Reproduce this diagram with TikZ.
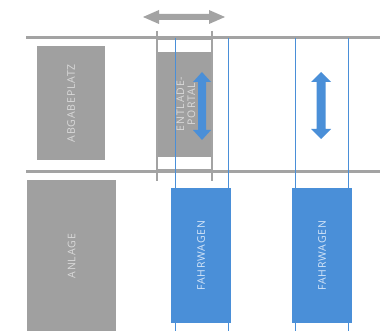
\documentclass[tikz,border=0pt]{standalone}
\usepackage{fontspec}
\setmainfont{Open Sans}[LetterSpace=8]
\begin{document}
\begin{tikzpicture}[x=1pt,y=-1pt,
  graybox/.style={fill=boxGray,draw=none,inner sep=0,anchor=north west},
  bluebox/.style={fill=wagBlue,draw=none,inner sep=0,anchor=north west,minimum width=60,minimum height=135},
  rail/.style={draw=wagBlue,line width=1pt},
  post/.style={draw=barGray,line width=1.6pt},
  lbl/.style={rotate=90,font=\fontsize{10.5}{11}\selectfont,align=center,inner sep=0pt}]
\definecolor{barGray}{HTML}{A3A3A3}
\definecolor{boxGray}{HTML}{A0A0A0}
\definecolor{wagBlue}{HTML}{4A8FD8}
\definecolor{txtGray}{HTML}{DADADA}
\definecolor{txtBlue}{HTML}{D6E6F8}
\useasboundingbox[fill=white] (0,0) rectangle (380,331);
% horizontal bars
\fill[barGray] (26,36) rectangle (380,39.5);
\fill[barGray] (26,170) rectangle (380,173.5);
% abgabeplatz
\node[graybox,minimum width=68,minimum height=114] (abg) at (37,46) {};
\node[lbl,text=txtGray] at (abg.center) {ABGABEPLATZ};
% anlage
\node[graybox,minimum width=89,minimum height=152] (anl) at (27,180) {};
\node[lbl,text=txtGray] at (anl.center) {ANLAGE};
% portal
\draw[barGray,line width=1.2pt] (157,39) rectangle (212,170);
\node[graybox,minimum width=55,minimum height=105] (por) at (157,52) {};
\draw[post] (157,31) -- (157,181);
\draw[post] (212,31) -- (212,181);
% rails
\foreach \x in {175,228,295,348} \draw[rail] (\x,38) -- (\x,331);
\node[lbl,text=txtGray] at (186,104) {ENTLADE-\\PORTAL};
% top double arrow
\fill[barGray] (143,17) -- (159,10) -- (159,14) -- (209,14) -- (209,10) -- (225,17) -- (209,24) -- (209,20) -- (159,20) -- (159,24) -- cycle;
% vertical blue arrows
\fill[wagBlue] (202,72) -- (211,82) -- (206,82) -- (206,130) -- (211,130) -- (202,140) -- (193,130) -- (198,130) -- (198,82) -- (193,82) -- cycle;
\fill[wagBlue] (321,72) -- (331,82) -- (325.5,82) -- (325.5,129) -- (331,129) -- (321,139) -- (311,129) -- (316.5,129) -- (316.5,82) -- (311,82) -- cycle;
% fahrwagen
\node[bluebox] (fw1) at (171,188) {};
\node[lbl,text=txtBlue] at (fw1.center) {FAHRWAGEN};
\node[bluebox] (fw2) at (292,188) {};
\node[lbl,text=txtBlue] at (fw2.center) {FAHRWAGEN};
\end{tikzpicture}
\end{document}
